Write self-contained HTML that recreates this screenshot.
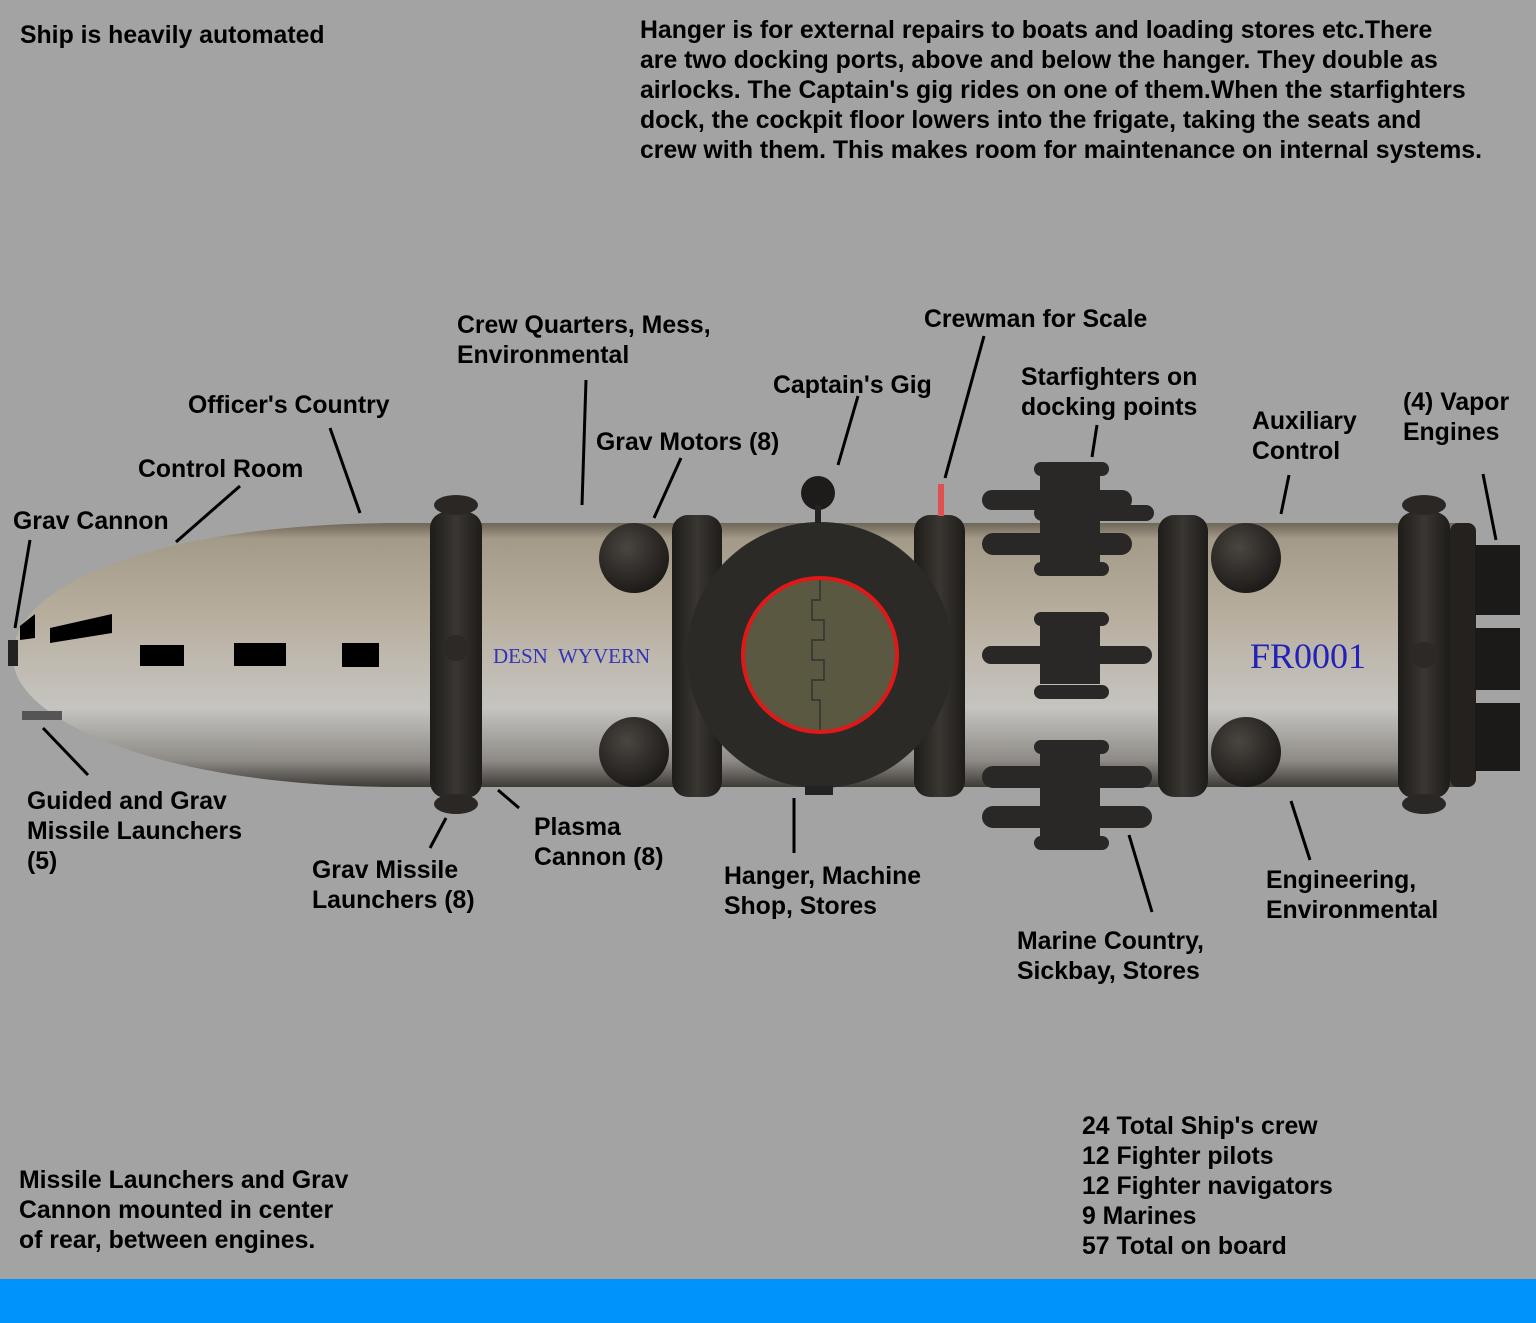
<!DOCTYPE html>
<html><head><meta charset="utf-8"><style>
html,body{margin:0;padding:0;background:#a3a3a3;}
svg{display:block}
text{font-family:"Liberation Sans",Arial,sans-serif;font-weight:bold;font-size:24.8px;fill:#000}
</style></head><body>
<svg width="1536" height="1323" viewBox="0 0 1536 1323" xmlns="http://www.w3.org/2000/svg">
<defs>
<linearGradient id="hull" x1="0" y1="0" x2="0" y2="1">
<stop offset="0" stop-color="#6e6658"/><stop offset="0.06" stop-color="#a49a88"/><stop offset="0.35" stop-color="#b8ae9e"/><stop offset="0.7" stop-color="#c6c4c0"/><stop offset="0.9" stop-color="#8e8b86"/><stop offset="1" stop-color="#3e3b36"/>
</linearGradient>
<radialGradient id="sph" cx="0.4" cy="0.35" r="0.7"><stop offset="0" stop-color="#4a4540"/><stop offset="1" stop-color="#1a1816"/></radialGradient>
<linearGradient id="ring" x1="0" y1="0" x2="1" y2="0"><stop offset="0" stop-color="#1e1c1a"/><stop offset="0.5" stop-color="#3a3632"/><stop offset="1" stop-color="#1e1c1a"/></linearGradient>
</defs>
<rect width="1536" height="1323" fill="#a3a3a3"/>
<rect x="0" y="1279" width="1536" height="44" fill="#0094fb"/>

<path d="M400 523 L1460 523 L1460 787 L400 787 C200 787 60 740 22 685 C10 668 10 645 22 625 C60 565 200 523 400 523 Z" fill="url(#hull)"/>
<rect x="8" y="640" width="10" height="26" fill="#222"/>
<rect x="22" y="711" width="40" height="9" fill="#555"/>
<polygon points="20,626 35,614 35,638 20,640" fill="#000"/>
<polygon points="50,628 112,614 112,633 50,643" fill="#000"/>
<rect x="140" y="645" width="44" height="21" fill="#000"/>
<rect x="234" y="643" width="52" height="23" fill="#000"/>
<rect x="342" y="643" width="37" height="24" fill="#000"/>

<circle cx="634" cy="558" r="35" fill="url(#sph)"/>
<circle cx="634" cy="752" r="35" fill="url(#sph)"/>
<circle cx="1246" cy="558" r="35" fill="url(#sph)"/>
<circle cx="1246" cy="752" r="35" fill="url(#sph)"/>

<rect x="430" y="512" width="52" height="286" rx="16" fill="url(#ring)"/>
<ellipse cx="456" cy="505" rx="22" ry="10" fill="#2a2724"/><ellipse cx="456" cy="804" rx="22" ry="10" fill="#2a2724"/>
<circle cx="456" cy="648" r="13" fill="#2c2926"/>
<rect x="672" y="515" width="50" height="282" rx="16" fill="url(#ring)"/>
<rect x="914" y="515" width="51" height="282" rx="16" fill="url(#ring)"/>
<rect x="1158" y="515" width="50" height="282" rx="16" fill="url(#ring)"/>
<rect x="1398" y="512" width="52" height="286" rx="16" fill="url(#ring)"/>
<ellipse cx="1424" cy="505" rx="22" ry="10" fill="#2a2724"/><ellipse cx="1424" cy="804" rx="22" ry="10" fill="#2a2724"/>
<circle cx="1424" cy="655" r="13" fill="#2c2926"/>
<rect x="1450" y="523" width="26" height="264" rx="8" fill="#24211e"/>
<rect x="1475" y="545" width="45" height="70" fill="#1c1a18"/>
<rect x="1475" y="628" width="45" height="62" fill="#1c1a18"/>
<rect x="1475" y="703" width="45" height="68" fill="#1c1a18"/>

<circle cx="820" cy="655" r="133" fill="#2c2a27"/>
<circle cx="820" cy="655" r="77" fill="#5a5840" stroke="#e01818" stroke-width="4"/>
<path d="M820 580 V600 H812 V620 H824 V640 H812 V660 H824 V680 H812 V700 H820 V730" fill="none" stroke="#333" stroke-width="1.5"/>
<rect x="805" y="786" width="28" height="9" fill="#222"/>
<circle cx="818" cy="493" r="17" fill="#1e1c1a"/>
<rect x="815" y="505" width="6" height="18" fill="#222"/>
<rect x="938" y="484" width="6" height="32" fill="#e05050"/>

<g fill="#2a2826">
<rect x="1034" y="462" width="75" height="14" rx="7"/>
<rect x="1040" y="476" width="60" height="90" />
<rect x="982" y="490" width="150" height="20" rx="10"/>
<rect x="1034" y="505" width="120" height="16" rx="8"/>
<rect x="982" y="533" width="150" height="22" rx="11"/>
<rect x="1034" y="562" width="75" height="14" rx="7"/>
<rect x="1034" y="612" width="75" height="14" rx="7"/>
<rect x="1040" y="626" width="60" height="58"/>
<rect x="982" y="646" width="170" height="18" rx="9"/>
<rect x="1034" y="685" width="75" height="14" rx="7"/>
<rect x="1034" y="740" width="75" height="14" rx="7"/>
<rect x="1040" y="754" width="60" height="82"/>
<rect x="982" y="766" width="170" height="22" rx="11"/>
<rect x="982" y="806" width="170" height="22" rx="11"/>
<rect x="1034" y="836" width="75" height="14" rx="7"/>
</g>

<text x="1250" y="668" style="font-family:'Liberation Serif',serif;font-weight:normal;font-size:36px;fill:#2222bb">FR0001</text>
<text x="493" y="663" style="font-family:'Liberation Serif',serif;font-weight:normal;font-size:21px;fill:#3333bb" xml:space="preserve">DESN  WYVERN</text>

<g stroke="#000" stroke-width="3" fill="none">
<line x1="30" y1="540" x2="15" y2="628"/>
<line x1="240" y1="486" x2="176" y2="542"/>
<line x1="330" y1="428" x2="360" y2="513"/>
<line x1="586" y1="380" x2="582" y2="505"/>
<line x1="681" y1="458" x2="654" y2="518"/>
<line x1="858" y1="396" x2="838" y2="465"/>
<line x1="984" y1="336" x2="945" y2="478"/>
<line x1="1097" y1="425" x2="1092" y2="457"/>
<line x1="1289" y1="475" x2="1281" y2="514"/>
<line x1="1483" y1="474" x2="1496" y2="540"/>
<line x1="43" y1="728" x2="88" y2="775"/>
<line x1="446" y1="818" x2="430" y2="848"/>
<line x1="498" y1="790" x2="519" y2="808"/>
<line x1="794" y1="798" x2="794" y2="853"/>
<line x1="1129" y1="835" x2="1152" y2="912"/>
<line x1="1291" y1="801" x2="1310" y2="860"/>
</g>

<text x="20" y="43">Ship is heavily automated</text>
<text x="640" y="38">Hanger is for external repairs to boats and loading stores etc.There</text>
<text x="640" y="68">are two docking ports, above and below the hanger. They double as</text>
<text x="640" y="98">airlocks. The Captain's gig rides on one of them.When the starfighters</text>
<text x="640" y="128">dock, the cockpit floor lowers into the frigate, taking the seats and</text>
<text x="640" y="158">crew with them. This makes room for maintenance on internal systems.</text>

<text x="457" y="333">Crew Quarters, Mess,</text>
<text x="457" y="363">Environmental</text>
<text x="924" y="327">Crewman for Scale</text>
<text x="1021" y="385">Starfighters on</text>
<text x="1021" y="415">docking points</text>
<text x="773" y="393">Captain's Gig</text>
<text x="188" y="413">Officer's Country</text>
<text x="596" y="450">Grav Motors (8)</text>
<text x="1252" y="429">Auxiliary</text>
<text x="1252" y="459">Control</text>
<text x="1403" y="410">(4) Vapor</text>
<text x="1403" y="440">Engines</text>
<text x="138" y="477">Control Room</text>
<text x="13" y="529">Grav Cannon</text>

<text x="27" y="809">Guided and Grav</text>
<text x="27" y="839">Missile Launchers</text>
<text x="27" y="869">(5)</text>
<text x="534" y="835">Plasma</text>
<text x="534" y="865">Cannon (8)</text>
<text x="312" y="878">Grav Missile</text>
<text x="312" y="908">Launchers (8)</text>
<text x="724" y="884">Hanger, Machine</text>
<text x="724" y="914">Shop, Stores</text>
<text x="1266" y="888">Engineering,</text>
<text x="1266" y="918">Environmental</text>
<text x="1017" y="949">Marine Country,</text>
<text x="1017" y="979">Sickbay, Stores</text>

<text x="1082" y="1134">24 Total Ship's crew</text>
<text x="1082" y="1164">12 Fighter pilots</text>
<text x="1082" y="1194">12 Fighter navigators</text>
<text x="1082" y="1224">9 Marines</text>
<text x="1082" y="1254">57 Total on board</text>
<text x="19" y="1188">Missile Launchers and Grav</text>
<text x="19" y="1218">Cannon mounted in center</text>
<text x="19" y="1248">of rear, between engines.</text>
</svg>
</body></html>
